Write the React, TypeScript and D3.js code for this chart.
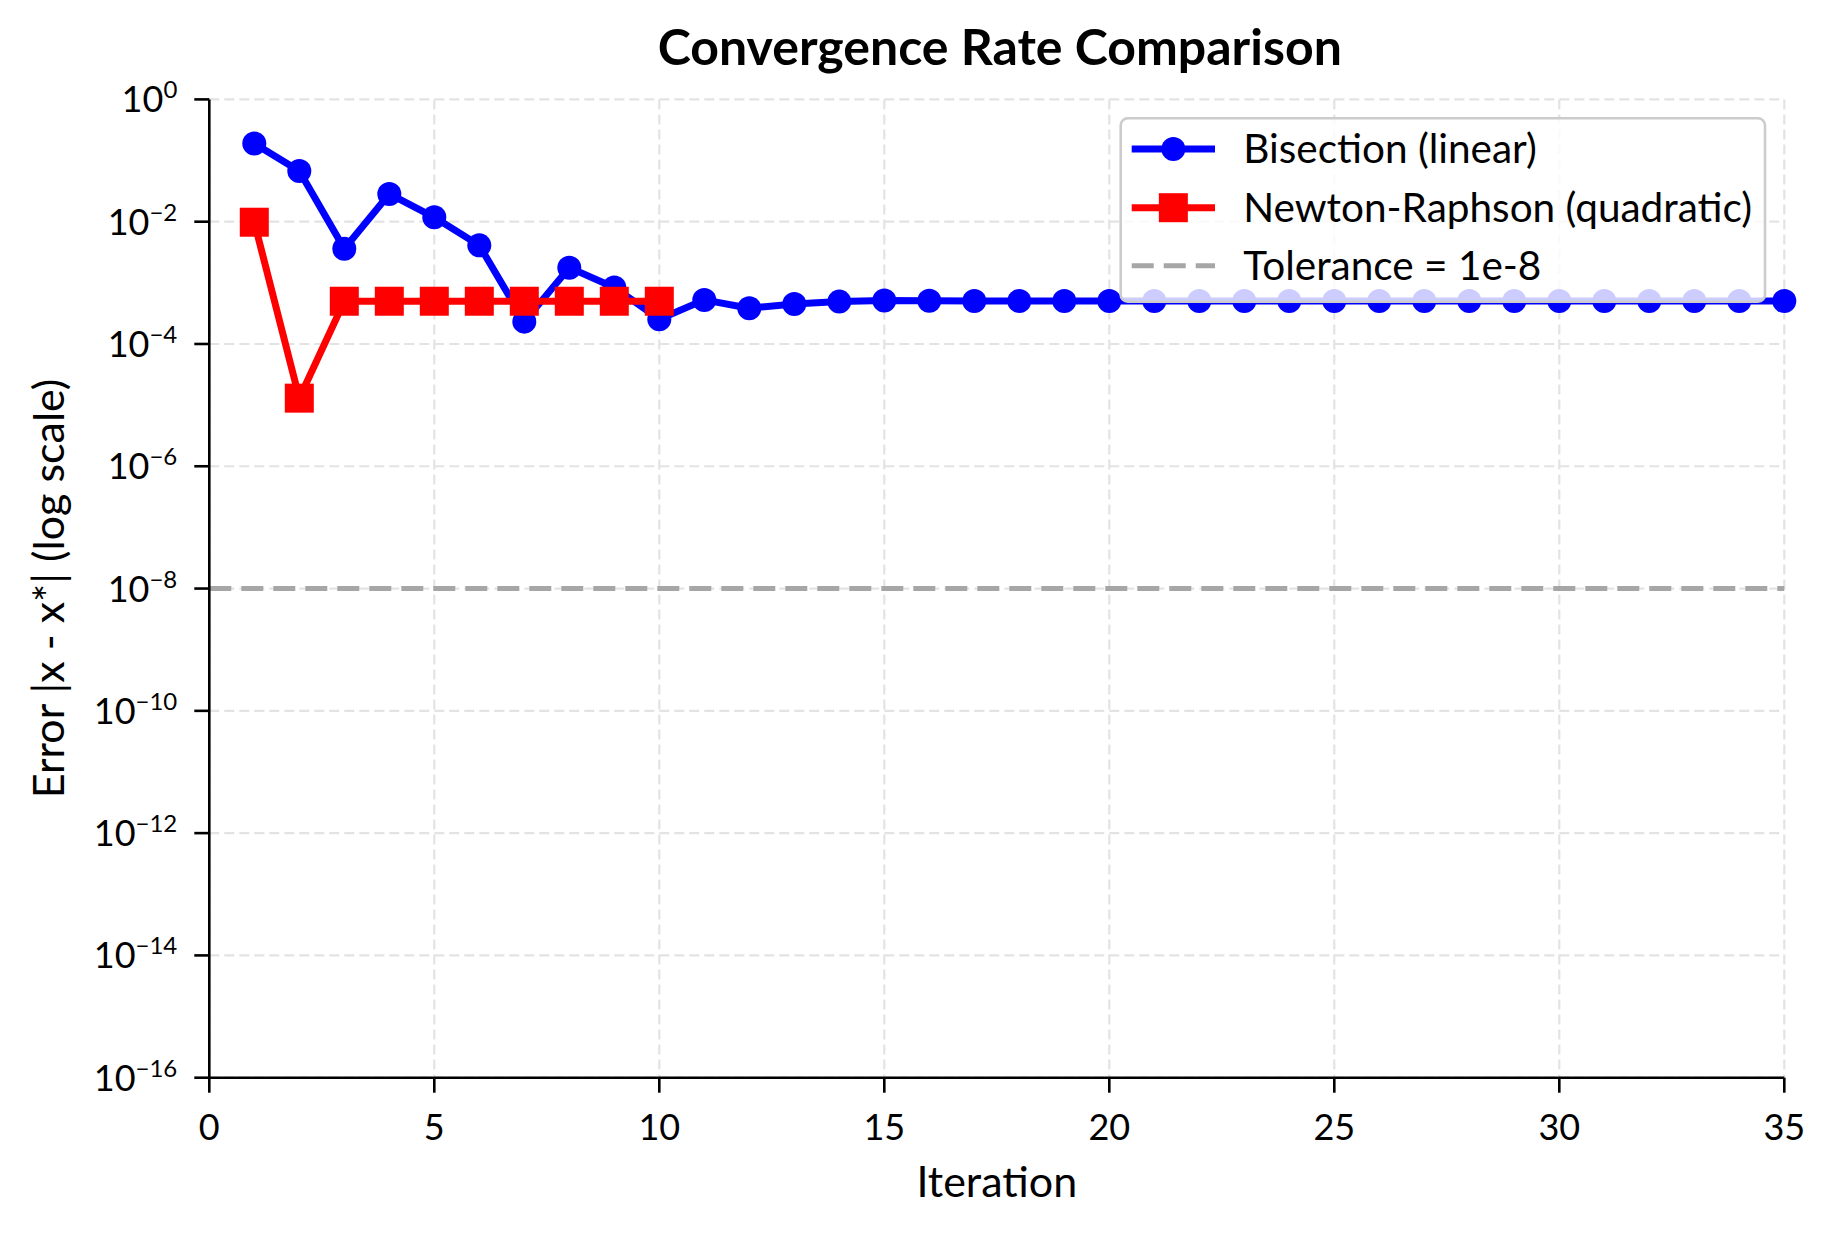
import React from "react";
import * as d3 from "d3";

const iterations = Array.from({ length: 35 }, (_, i) => i + 1);
const bisectionErr = [
  0.19, 0.0675, 0.0036, 0.0284, 0.0118, 0.0041, 0.000232, 0.00177, 0.00084, 0.000254,
  0.000526, 0.000384, 0.000452, 0.000493, 0.000512, 0.000508, 0.000506, 0.000505, 0.000504, 0.000503,
  0.000503, 0.000503, 0.000503, 0.000503, 0.000503, 0.000503, 0.000503, 0.000503, 0.000503, 0.000503,
  0.000503, 0.000503, 0.000503, 0.000503, 0.000503,
];
const newtonIter = [1, 2, 3, 4, 5, 6, 7, 8, 9, 10];
const newtonErr = [0.0098, 0.000013, 0.0005, 0.0005, 0.0005, 0.0005, 0.0005, 0.0005, 0.0005, 0.0005];
const tolerance = 1e-8;
const xTicks = [0, 5, 10, 15, 20, 25, 30, 35];
const yTickExps = [0, -2, -4, -6, -8, -10, -12, -14, -16];
const legendLabels = ["Bisection (linear)", "Newton-Raphson (quadratic)", "Tolerance = 1e-8"];
const title = "Convergence Rate Comparison";
const xLabel = "Iteration";
const yLabel = "Error |x - x*| (log scale)";

const W = 1834;
const H = 1234;
const L = 209.3, R = 1784.3, T = 99.4, B = 1077.7;
const FONT = "Lato, 'Open Sans', sans-serif";

export default function App() {
  const x = d3.scaleLinear().domain([0, 35]).range([L, R]);
  const y = d3.scaleLog().domain([1e-16, 1]).range([B, T]);
  const line = d3.line<[number, number]>().x((d) => x(d[0])).y((d) => y(d[1]));
  const bisPts: [number, number][] = iterations.map((it, i) => [it, bisectionErr[i]]);
  const newPts: [number, number][] = newtonIter.map((it, i) => [it, newtonErr[i]]);
  const sq = 29;

  const legX = 1120.7, legY = 118.3, legW = 1765 - 1120.7, legH = 301.7 - 118.3;
  const rows = [149, 207.7, 265.7];
  const hx0 = 1131.7, hx1 = 1215, hxm = (hx0 + hx1) / 2;

  return (
    <svg width={W} height={H} style={{ position: "absolute", left: 0, top: 0, background: "#fff" }} fontFamily={FONT}>
      <rect x={0} y={0} width={W} height={H} fill="#fff" />
      {/* grid */}
      <g stroke="#e3e3e3" strokeWidth={2.2} strokeDasharray="10,5">
        {xTicks.map((t) => (
          <line key={"gx" + t} x1={x(t)} x2={x(t)} y1={T} y2={B} />
        ))}
        {yTickExps.map((e) => (
          <line key={"gy" + e} x1={L} x2={R} y1={y(Math.pow(10, e))} y2={y(Math.pow(10, e))} />
        ))}
      </g>
      {/* tolerance */}
      <line x1={L} x2={R} y1={y(tolerance)} y2={y(tolerance)} stroke="#a6a6a6" strokeWidth={5} strokeDasharray="22,10" />
      {/* bisection */}
      <path d={line(bisPts) || ""} fill="none" stroke="#0000ff" strokeWidth={7} strokeLinejoin="round" />
      {bisPts.map((p, i) => (
        <circle key={"b" + i} cx={x(p[0])} cy={y(p[1])} r={12} fill="#0000ff" />
      ))}
      {/* newton */}
      <path d={line(newPts) || ""} fill="none" stroke="#ff0000" strokeWidth={7} strokeLinejoin="round" />
      {newPts.map((p, i) => (
        <rect key={"n" + i} x={x(p[0]) - sq / 2} y={y(p[1]) - sq / 2} width={sq} height={sq} fill="#ff0000" />
      ))}
      {/* axes */}
      <g stroke="#000" strokeWidth={2.6}>
        <line x1={L} x2={L} y1={T} y2={B + 1.3} />
        <line x1={L - 1.3} x2={R} y1={B} y2={B} />
        {xTicks.map((t) => (
          <line key={"tx" + t} x1={x(t)} x2={x(t)} y1={B} y2={B + 15} />
        ))}
        {yTickExps.map((e) => (
          <line key={"ty" + e} x1={L - 15} x2={L} y1={y(Math.pow(10, e))} y2={y(Math.pow(10, e))} />
        ))}
      </g>
      {xTicks.map((t) => (
        <text key={"lx" + t} x={x(t)} y={B + 62} fontSize={36} textAnchor="middle" fill="#000">
          {t}
        </text>
      ))}
      {yTickExps.map((e) => (
        <text key={"ly" + e} x={L - 32} y={y(Math.pow(10, e)) + 13} fontSize={36} textAnchor="end" fill="#000">
          <tspan>10</tspan>
          <tspan dy={-14} fontSize={24}>{e === 0 ? "0" : "\u2212" + Math.abs(e)}</tspan>
        </text>
      ))}
      {/* labels */}
      <text x={(L + R) / 2} y={1197} fontSize={43} textAnchor="middle" fill="#000">
        {xLabel}
      </text>
      <text transform={`translate(64,${(T + B) / 2}) rotate(-90)`} fontSize={43} textAnchor="middle" fill="#000">
        {yLabel}
      </text>
      <text x={(L + R) / 2 + 3} y={65} fontSize={50} fontWeight="bold" textAnchor="middle" fill="#000">
        {title}
      </text>
      {/* legend */}
      <rect x={legX} y={legY} width={legW} height={legH} rx={7} fill="#fff" fillOpacity={0.8} stroke="#cccccc" strokeWidth={2.6} />
      <line x1={hx0} x2={hx1} y1={rows[0]} y2={rows[0]} stroke="#0000ff" strokeWidth={7} />
      <circle cx={hxm} cy={rows[0]} r={12} fill="#0000ff" />
      <line x1={hx0} x2={hx1} y1={rows[1]} y2={rows[1]} stroke="#ff0000" strokeWidth={7} />
      <rect x={hxm - sq / 2} y={rows[1] - sq / 2} width={sq} height={sq} fill="#ff0000" />
      <line x1={hx0} x2={hx1} y1={rows[2]} y2={rows[2]} stroke="#a6a6a6" strokeWidth={5} strokeDasharray="22,10" />
      {legendLabels.map((l, i) => (
        <text key={l} x={1243.3} y={rows[i] + 14} fontSize={40.5} fill="#000">
          {l}
        </text>
      ))}
    </svg>
  );
}
